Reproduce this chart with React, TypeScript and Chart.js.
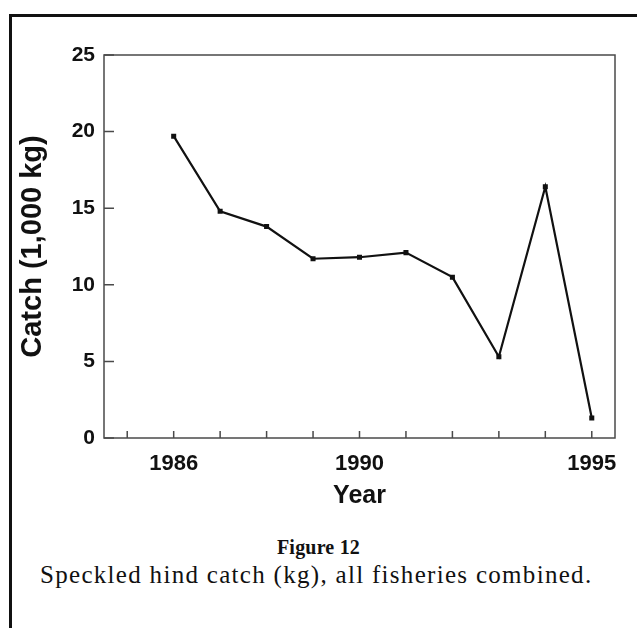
import React, { useEffect, useRef } from "react";
import { Chart, registerables } from "chart.js";

Chart.register(...registerables);

const years = [1986, 1987, 1988, 1989, 1990, 1991, 1992, 1993, 1994, 1995];
const catchValues = [19.7, 14.8, 13.8, 11.7, 11.8, 12.1, 10.5, 5.3, 16.4, 1.3];
const xTickYears = [1985, 1986, 1987, 1988, 1989, 1990, 1991, 1992, 1993, 1994, 1995];
const xLabelYears = [1986, 1990, 1995];
const yTicks = [0, 5, 10, 15, 20, 25];
const xRange = [1984.5, 1995.5];
const yRange = [0, 25];
const yTitle = "Catch (1,000 kg)";
const xTitle = "Year";
const figLabel = "Figure 12";
const caption = "Speckled hind catch (kg), all fisheries combined.";

const SANS = "'Liberation Sans', Arial, Helvetica, sans-serif";
const SERIF = "'Liberation Serif', 'Times New Roman', serif";

const decorPlugin = {
  id: "decor",
  afterDraw(chart: any) {
    const { ctx, chartArea: a, scales } = chart;
    const xs = scales.x;
    const ys = scales.y;
    ctx.save();
    ctx.strokeStyle = "#4a4a4a";
    ctx.lineWidth = 1.5;
    ctx.strokeRect(a.left, a.top, a.right - a.left, a.bottom - a.top);
    ctx.beginPath();
    ys.ticks.forEach((t: any) => {
      const py = ys.getPixelForValue(t.value);
      ctx.moveTo(a.left, py);
      ctx.lineTo(a.left + 10, py);
    });
    xs.ticks.forEach((t: any) => {
      const px = xs.getPixelForValue(t.value);
      ctx.moveTo(px, a.bottom);
      ctx.lineTo(px, a.bottom - 7);
    });
    ctx.stroke();

    ctx.fillStyle = "#111";
    ctx.font = `bold 25px ${SANS}`;
    ctx.textAlign = "center";
    ctx.textBaseline = "alphabetic";
    ctx.fillText(xTitle, (a.left + a.right) / 2, 503);

    ctx.translate(41, (a.top + a.bottom) / 2);
    ctx.rotate(-Math.PI / 2);
    ctx.font = `bold 29px ${SANS}`;
    ctx.textAlign = "center";
    ctx.textBaseline = "alphabetic";
    ctx.fillText(yTitle, 0, 0);
    ctx.restore();
  },
};

export default function App() {
  const ref = useRef<HTMLCanvasElement | null>(null);
  useEffect(() => {
    if (!ref.current) return;
    const chart = new Chart(ref.current, {
      type: "line",
      data: {
        datasets: [
          {
            data: years.map((x, i) => ({ x, y: catchValues[i] })),
            borderColor: "#111",
            borderWidth: 2.2,
            pointStyle: "rect",
            pointRadius: 2,
            pointBackgroundColor: "#111",
            pointBorderColor: "#111",
            tension: 0,
          },
        ],
      },
      options: {
        animation: false,
        responsive: false,
        layout: { padding: { top: 55, right: 22, left: 0, bottom: 0 } },
        plugins: { legend: { display: false }, tooltip: { enabled: false } },
        scales: {
          x: {
            type: "linear",
            min: xRange[0],
            max: xRange[1],
            afterBuildTicks: (s: any) => {
              s.ticks = xTickYears.map((v) => ({ value: v }));
            },
            afterFit: (s: any) => {
              s.height = 82;
            },
            grid: { display: false, drawTicks: false },
            border: { display: false },
            ticks: {
              autoSkip: false,
              maxRotation: 0,
              padding: 13,
              color: "#111",
              font: { family: SANS, size: 22, weight: "bold" },
              callback: (v: any) => (xLabelYears.includes(Number(v)) ? String(v) : ""),
            },
          },
          y: {
            min: yRange[0],
            max: yRange[1],
            afterBuildTicks: (s: any) => {
              s.ticks = yTicks.map((v) => ({ value: v }));
            },
            afterFit: (s: any) => {
              s.width = 104;
            },
            grid: { display: false, drawTicks: false },
            border: { display: false },
            ticks: {
              padding: 9,
              color: "#111",
              font: { family: SANS, size: 21, weight: "bold" },
            },
          },
        },
      },
      plugins: [decorPlugin],
    } as any);
    return () => chart.destroy();
  }, []);

  return (
    <div
      style={{
        position: "fixed",
        left: 0,
        top: 0,
        width: 637,
        height: 628,
        background: "#fff",
        overflow: "hidden",
      }}
    >
      <div style={{ position: "absolute", left: 9, top: 14, width: 628, height: 3, background: "#111" }} />
      <div style={{ position: "absolute", left: 9, top: 14, width: 3, height: 614, background: "#111" }} />
      <canvas ref={ref} width={637} height={520} style={{ position: "absolute", left: 0, top: 0 }} />
      <div
        style={{
          position: "absolute",
          left: 0,
          width: 637,
          top: 534,
          textAlign: "center",
          fontFamily: SERIF,
          fontWeight: "bold",
          fontSize: 20,
          letterSpacing: "0.2px",
          lineHeight: "26px",
          color: "#111",
        }}
      >
        {figLabel}
      </div>
      <div
        style={{
          position: "absolute",
          left: 40,
          top: 560,
          fontFamily: SERIF,
          fontSize: 25,
          letterSpacing: "1.3px",
          lineHeight: "30px",
          color: "#111",
          whiteSpace: "nowrap",
        }}
      >
        {caption}
      </div>
    </div>
  );
}
